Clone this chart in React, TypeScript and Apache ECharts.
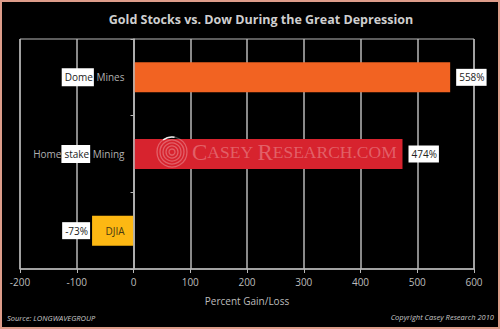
import React, { useEffect, useRef } from "react";
import * as echarts from "echarts";

const categories = ["Dome Mines", "Homestake Mining", "DJIA"];
const values = [558, 474, -73];
const barColors = ["#F26322", "#D7232E", "#FDB813"];
const xTicks = { min: -200, max: 600, interval: 100 };

const titleText = "Gold Stocks vs. Dow During the Great Depression";
const axisName = "Percent Gain/Loss";
const sourceText = "Source: LONGWAVEGROUP";
const copyrightText = "Copyright Casey Research 2010";

const catLabelFormat: Record<string, string> = {
  "Dome Mines": "{w|Dome}{g| Mines}",
  "Homestake Mining": "{g|Home}{w|stake}{g| Mining}",
  DJIA: "{d|DJIA}",
};

export default function App() {
  const ref = useRef<HTMLDivElement>(null);
  useEffect(() => {
    if (!ref.current) return;
    const chart = echarts.init(ref.current, undefined, { renderer: "svg" });
    const font = "'Open Sans', 'Liberation Sans', sans-serif";
    const serif = "'Liberation Serif', 'DejaVu Serif', serif";
    const ringR = [3, 6, 9, 12, 15];
    const gridLeft = 20;
    const gridWidth = 454;
    const zeroOffset = -((0 - xTicks.min) / (xTicks.max - xTicks.min)) * gridWidth;
    chart.setOption({
      animation: false,
      backgroundColor: "#000",
      title: {
        text: titleText,
        left: 256,
        textAlign: "center",
        top: 8,
        textStyle: { color: "#cfcfcf", fontSize: 12.5, fontWeight: "bold", fontFamily: font },
      },
      grid: {
        left: gridLeft,
        width: gridWidth,
        top: 39,
        bottom: 60,
        containLabel: false,
        outerBoundsMode: "none",
        show: true,
        borderColor: "#b8b8b8",
        borderWidth: 1,
      },
      xAxis: {
        type: "value",
        min: xTicks.min,
        max: xTicks.max,
        interval: xTicks.interval,
        name: axisName,
        nameLocation: "middle",
        nameGap: 27,
        nameTextStyle: { color: "#bdbdbd", fontSize: 10, fontFamily: font },
        axisLine: { show: true, lineStyle: { color: "#b8b8b8", width: 1.5 } },
        axisTick: { show: true, length: 4, lineStyle: { color: "#b8b8b8" } },
        axisLabel: { color: "#bdbdbd", fontSize: 10, margin: 8, fontFamily: font },
        splitLine: { show: true, lineStyle: { color: "#b8b8b8", width: 1.5 } },
      },
      yAxis: {
        type: "category",
        data: categories,
        inverse: true,
        z: 5,
        offset: zeroOffset,
        axisLine: { show: true, onZero: false, lineStyle: { color: "#b8b8b8", width: 1.5 } },
        axisTick: { show: true, length: 3, lineStyle: { color: "#b8b8b8" } },
        axisLabel: {
          margin: 9,
          fontFamily: font,
          formatter: (v: string) => catLabelFormat[v] ?? v,
          rich: {
            w: { backgroundColor: "#fff", color: "#222", fontSize: 10, padding: [4, 1, 4, 3], fontFamily: font },
            g: { color: "#b0b0b0", fontSize: 10, fontFamily: font },
            d: { color: "#4a3a10", fontSize: 10, fontFamily: font },
          },
        },
      },
      series: [
        {
          type: "bar",
          barWidth: 30,
          z: 2,
          data: values.map((v, i) => ({
            value: v,
            itemStyle: { color: barColors[i] },
            label: {
              show: true,
              position: v >= 0 ? "right" : "left",
              distance: v >= 0 ? 6 : 2,
              formatter: "{c}%",
              color: "#222",
              fontSize: 10,
              fontFamily: font,
              backgroundColor: "#fff",
              padding: [4, 2, 3, 3],
            },
          })),
        },
      ],
      graphic: [
        {
          type: "group",
          silent: true,
          z: 100,
          children: [
            ...ringR.map((r) => ({
              type: "circle",
              z: 100,
              shape: { cx: 172, cy: 152, r },
              style: { fill: "none", stroke: "rgba(255,255,255,0.28)", lineWidth: 1.3 },
            })),
            {
              type: "arc",
              z: 100,
              shape: { cx: 172, cy: 152, r: 15, startAngle: -2.2, endAngle: -1.4 },
              style: { stroke: "rgba(255,255,255,0.9)", lineWidth: 1.5, fill: "none" },
            },
            {
              type: "text",
              z: 100,
              x: 192,
              y: 152,
              style: {
                text: "{L|C}{s|ASEY }{L|R}{s|ESEARCH.COM}",
                verticalAlign: "middle",
                fill: "rgba(255,255,255,0.28)",
                rich: {
                  L: { fontSize: 23, fontFamily: serif, fill: "rgba(255,255,255,0.28)" },
                  s: { fontSize: 17.5, fontFamily: serif, fill: "rgba(255,255,255,0.28)" },
                },
              },
            },
          ],
        },
        {
          type: "text",
          left: 7,
          top: 314,
          style: { text: sourceText, fill: "#c8c8c8", fontSize: 7.5, fontStyle: "italic", fontFamily: font },
        },
        {
          type: "text",
          right: 6,
          top: 313,
          style: { text: copyrightText, fill: "#c8c8c8", fontSize: 7.5, fontStyle: "italic", fontFamily: font },
        },
        {
          type: "rect",
          silent: true,
          z: 100,
          shape: { x: 1, y: 1, width: 498, height: 327 },
          style: { fill: "none", stroke: "#dd9c8a", lineWidth: 2 },
        },
      ],
    });
    return () => chart.dispose();
  }, []);
  return (
    <div
      ref={ref}
      style={{ position: "fixed", left: 0, top: 0, width: 500, height: 329 }}
    />
  );
}
